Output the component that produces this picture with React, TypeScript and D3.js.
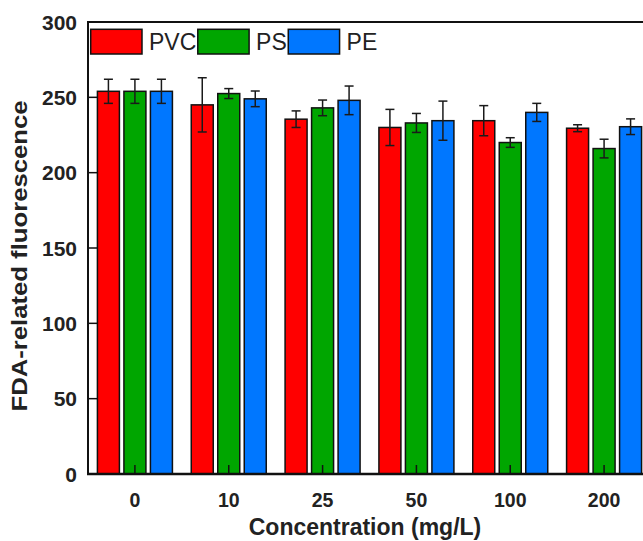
import React from 'react';
import * as d3 from 'd3';

const categories = ['0', '10', '25', '50', '100', '200'];
const seriesNames = ['PVC', 'PS', 'PE'];
const pvcValues = [254, 245, 235.5, 230, 234.5, 229.5];
const psValues = [254, 252.5, 243, 233, 220, 216];
const peValues = [254, 249, 248, 234.5, 240, 230.5];
const pvcErrors = [8, 18, 5.5, 12, 10, 2.3];
const psErrors = [8, 3.3, 5.2, 6.3, 3.2, 6.2];
const peErrors = [8, 5.2, 9.5, 13, 6, 5.2];
const yTicks = [0, 50, 100, 150, 200, 250, 300];

const colors = ['#ff0000', '#00a600', '#0077ff'];
const font = 'Arial, "Liberation Sans", Helvetica, sans-serif';

const measure = (text: string, size: number) => {
  const ctx = document.createElement('canvas').getContext('2d');
  if (!ctx) return text.length * size * 0.6;
  ctx.font = `${size}px ${font}`;
  return ctx.measureText(text).width;
};

const App = () => {
  const width = 643, height = 541;
  const left = 88, right = 651, top = 22, bottom = 474;

  const values = [pvcValues, psValues, peValues];
  const errors = [pvcErrors, psErrors, peErrors];

  const x = d3.scalePoint<string>().domain(categories).range([left, right]).padding(0.5);
  const xs = d3.scaleBand<string>().domain(seriesNames).range([-37.5, 37.5]).paddingInner(0.17);
  const y = d3.scaleLinear().domain([0, 300]).range([bottom, top]);

  // legend layout
  const legendSize = 23;
  let lx = 90.7;
  const legend = seriesNames.map((name, i) => {
    const item = { name, color: colors[i], x: lx };
    lx += 51.3 + 7 + measure(name, legendSize) + 1.5;
    return item;
  });

  return (
    <svg width={width} height={height} style={{ position: 'absolute', left: 0, top: 0, background: '#fff' }} fontFamily={font}>
      {/* bars */}
      {categories.map((c, ci) => (
        <g key={c}>
          {seriesNames.map((s, si) => {
            const v = values[si][ci];
            const e = errors[si][ci];
            const bx = (x(c) as number) + (xs(s) as number);
            const cx = bx + xs.bandwidth() / 2;
            return (
              <g key={s}>
                <rect x={bx} y={y(v)} width={xs.bandwidth()} height={y(0) - y(v)}
                  fill={colors[si]} stroke="#111" strokeWidth={1.5} />
                <line x1={cx} x2={cx} y1={y(v + e)} y2={y(v - e)} stroke="#1a1a1a" strokeWidth={1.5} />
                <line x1={cx - 4.5} x2={cx + 4.5} y1={y(v + e)} y2={y(v + e)} stroke="#1a1a1a" strokeWidth={1.5} />
                <line x1={cx - 4.5} x2={cx + 4.5} y1={y(v - e)} y2={y(v - e)} stroke="#1a1a1a" strokeWidth={1.5} />
              </g>
            );
          })}
        </g>
      ))}

      {/* frame */}
      <line x1={left} x2={right} y1={top} y2={top} stroke="#111" strokeWidth={2} />
      <line x1={right} x2={right} y1={top} y2={bottom} stroke="#111" strokeWidth={2} />
      <line x1={left} x2={left} y1={top - 1} y2={bottom + 1} stroke="#111" strokeWidth={2} />
      <line x1={left - 1} x2={right} y1={bottom} y2={bottom} stroke="#111" strokeWidth={2.5} />

      {/* y axis */}
      {yTicks.map(t => (
        <g key={t}>
          <line x1={left} x2={left + 9} y1={y(t)} y2={y(t)} stroke="#111" strokeWidth={1.5} />
          <text x={left - 11} y={y(t) + 7.5} textAnchor="end" fontSize={21} fontWeight="bold" fill="#222">{t}</text>
        </g>
      ))}

      {/* x axis */}
      {categories.map(c => (
        <g key={c}>
          <line x1={x(c)} x2={x(c)} y1={bottom} y2={bottom - 9} stroke="#111" strokeWidth={1.5} />
          <text x={x(c)} y={507} textAnchor="middle" fontSize={19.5} fontWeight="bold" fill="#222">{c}</text>
        </g>
      ))}

      <text x={365} y={535} textAnchor="middle" fontSize={23} fontWeight="bold" fill="#222">Concentration (mg/L)</text>
      <text transform="translate(27,256) rotate(-90)" textAnchor="middle" fontSize={22}
        fontWeight="bold" fill="#222" textLength={311} lengthAdjust="spacingAndGlyphs">FDA-related fluorescence</text>

      {/* legend */}
      {legend.map(item => (
        <g key={item.name}>
          <rect x={item.x} y={29.3} width={51.3} height={24.7} fill={item.color} stroke="#111" strokeWidth={1.5} />
          <text x={item.x + 51.3 + 7} y={50} fontSize={legendSize} fill="#222">{item.name}</text>
        </g>
      ))}
    </svg>
  );
};

export default App;
